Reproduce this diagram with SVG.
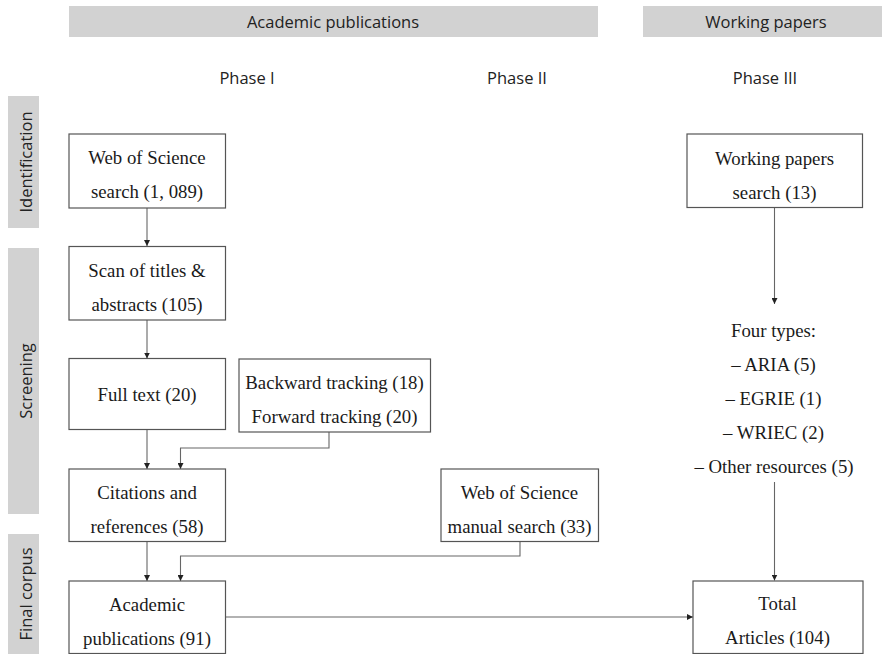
<svg xmlns="http://www.w3.org/2000/svg" width="882" height="654" viewBox="0 0 882 654">
<style>
.band{fill:#d2d2d2}
.hdr{font-family:"Open Sans","Noto Sans",sans-serif;font-size:16.5px;fill:#222;text-anchor:middle}
.box{fill:#fff;stroke:#555;stroke-width:1.2}
.t{font-family:"Liberation Serif","Times New Roman",serif;font-size:18.8px;fill:#1a1a1a;text-anchor:middle}
.c{fill:none;stroke:#666;stroke-width:1.1}
</style>
<defs>
<marker id="ah" viewBox="0 0 10 10" refX="10" refY="5" markerWidth="6" markerHeight="6" markerUnits="userSpaceOnUse" orient="auto">
<path d="M0,0 L10,5 L0,10 z" fill="#222"/>
</marker>
</defs>
<rect width="882" height="654" fill="#fff"/>
<g id="headers">
<rect class="band" x="69" y="6" width="529" height="31"/>
<text class="hdr" x="333" y="27.5">Academic publications</text>
<rect class="band" x="643" y="6" width="239" height="31"/>
<text class="hdr" x="766" y="27.5">Working papers</text>
<text class="hdr" x="247" y="84">Phase I</text>
<text class="hdr" x="517" y="84">Phase II</text>
<text class="hdr" x="765" y="84">Phase III</text>
</g>
<g id="stages">
<rect class="band" x="8" y="96" width="31" height="132"/>
<text class="hdr" transform="translate(31.5,162) rotate(-90)">Identification</text>
<rect class="band" x="8" y="248" width="31" height="266"/>
<text class="hdr" transform="translate(31.5,381) rotate(-90)">Screening</text>
<rect class="band" x="8" y="534" width="31" height="120"/>
<text class="hdr" transform="translate(31.5,594) rotate(-90)">Final corpus</text>
</g>
<g id="connectors">
<line class="c" x1="147" y1="208" x2="147" y2="246" marker-end="url(#ah)"/>
<line class="c" x1="147" y1="320" x2="147" y2="358.5" marker-end="url(#ah)"/>
<line class="c" x1="147" y1="429.5" x2="147" y2="469" marker-end="url(#ah)"/>
<polyline class="c" points="329,432 329,448 180.5,448 180.5,469" marker-end="url(#ah)"/>
<line class="c" x1="147" y1="541.5" x2="147" y2="581" marker-end="url(#ah)"/>
<polyline class="c" points="520,542 520,556 180.5,556 180.5,581" marker-end="url(#ah)"/>
<line class="c" x1="225.5" y1="617" x2="693" y2="617" marker-end="url(#ah)"/>
<line class="c" x1="774.5" y1="207.5" x2="774.5" y2="304" marker-end="url(#ah)"/>
<line class="c" x1="774.5" y1="482" x2="774.5" y2="580.5" marker-end="url(#ah)"/>
</g>
<g id="wos">
<rect class="box" x="69" y="134" width="156.5" height="74"/>
<text class="t" x="147" y="164">Web of Science</text>
<text class="t" x="147" y="198">search (1, 089)</text>
</g>
<g id="scan">
<rect class="box" x="69" y="246.5" width="156.5" height="73.5"/>
<text class="t" x="147" y="277">Scan of titles &amp;</text>
<text class="t" x="147" y="311">abstracts (105)</text>
</g>
<g id="fulltext">
<rect class="box" x="69" y="358.5" width="156.5" height="71"/>
<text class="t" x="147" y="401">Full text (20)</text>
</g>
<g id="tracking">
<rect class="box" x="239" y="359" width="191.5" height="73"/>
<text class="t" x="334.5" y="388.5">Backward tracking (18)</text>
<text class="t" x="334.5" y="422.5">Forward tracking (20)</text>
</g>
<g id="citations">
<rect class="box" x="69" y="469" width="156.5" height="72.5"/>
<text class="t" x="147" y="498.5">Citations and</text>
<text class="t" x="147" y="532.5">references (58)</text>
</g>
<g id="manual">
<rect class="box" x="441" y="469" width="157.5" height="72.5"/>
<text class="t" x="519.5" y="498.5">Web of Science</text>
<text class="t" x="519.5" y="532.5">manual search (33)</text>
</g>
<g id="academic">
<rect class="box" x="69" y="581" width="156.5" height="72.5"/>
<text class="t" x="147" y="610.5">Academic</text>
<text class="t" x="147" y="644.5">publications (91)</text>
</g>
<g id="wpsearch">
<rect class="box" x="687" y="134" width="175.5" height="73.5"/>
<text class="t" x="774.5" y="164.5">Working papers</text>
<text class="t" x="774.5" y="199">search (13)</text>
</g>
<g id="fourtypes">
<text class="t" x="773.5" y="337">Four types:</text>
<text class="t" x="773.5" y="371">– ARIA (5)</text>
<text class="t" x="773.5" y="404.5">– EGRIE (1)</text>
<text class="t" x="773.5" y="438.5">– WRIEC (2)</text>
<text class="t" x="774" y="472.5">– Other resources (5)</text>
</g>
<g id="total">
<rect class="box" x="693" y="581" width="170" height="72.5"/>
<text class="t" x="777.5" y="610">Total</text>
<text class="t" x="777.5" y="644">Articles (104)</text>
</g>
</svg>
